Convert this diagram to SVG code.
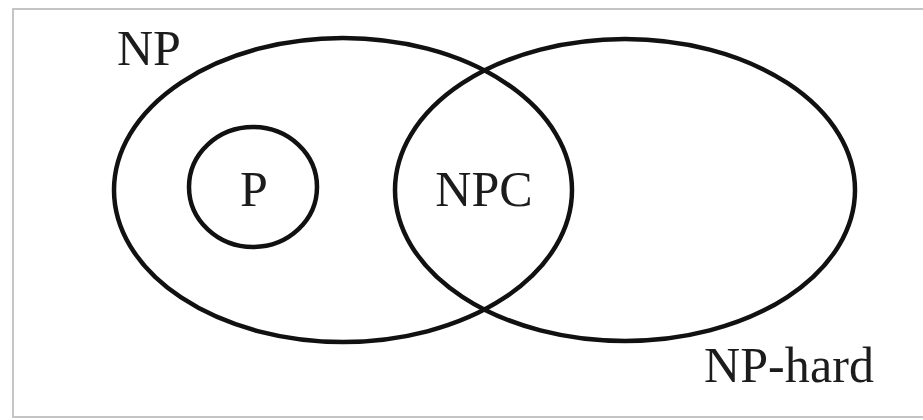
<svg xmlns="http://www.w3.org/2000/svg" width="923" height="420" viewBox="0 0 923 420">
  <style>
    .set { fill: none; stroke: #111; stroke-width: 4.5; }
    .lbl { font-family: "Liberation Serif", "Times New Roman", serif; font-size: 50px; fill: #1c1c1c; }
    .frame { fill: #fff; stroke: #c4c4c4; stroke-width: 2; }
  </style>
  <rect width="923" height="420" fill="#fff"/>
  <rect class="frame" x="13" y="9" width="915" height="408"/>
  <g id="np">
    <ellipse class="set" cx="343" cy="190" rx="229" ry="152"/>
    <text class="lbl" x="117" y="65">NP</text>
  </g>
  <g id="np-hard">
    <ellipse class="set" cx="625" cy="190" rx="230" ry="151"/>
    <text class="lbl" x="704" y="382" textLength="170">NP-hard</text>
  </g>
  <g id="p">
    <ellipse class="set" cx="253" cy="187" rx="64" ry="60"/>
    <text class="lbl" x="254" y="206" text-anchor="middle">P</text>
  </g>
  <g id="npc">
    <text class="lbl" x="484" y="206" text-anchor="middle">NPC</text>
  </g>
  <g id="connectors"/>
</svg>
